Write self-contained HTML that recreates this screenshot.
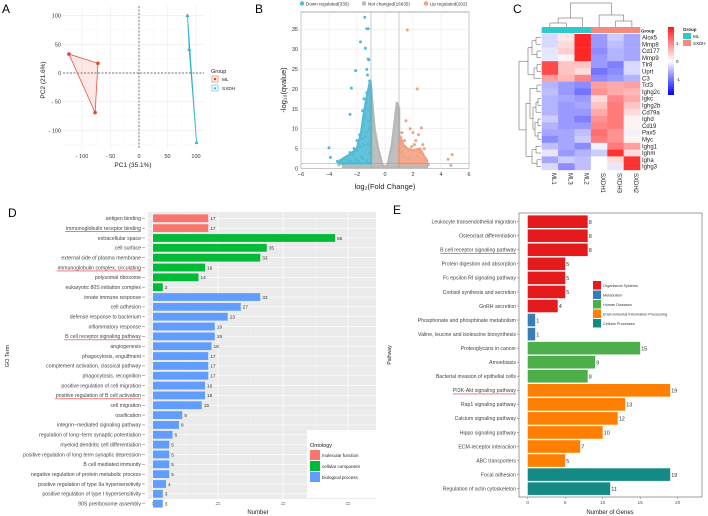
<!DOCTYPE html>
<html><head><meta charset="utf-8"><style>
body{margin:0;background:#fff}
svg{display:block;font-family:"Liberation Sans",sans-serif}
</style></head><body>
<svg id="fig" width="708" height="516" viewBox="0 0 708 516" xmlns="http://www.w3.org/2000/svg">
<g id="gA"></g>
<g id="gB"></g>
<g id="gC"></g>
<g id="gD"></g>
<g id="gE"></g>
</svg>
<script>
// ---------- data ----------
const pcaML = [[-123,33],[-72,17],[-77,-69]];
const pcaSX = [[85,100],[88,41],[101,-121]];
const pcaXTicks = [-100,-50,0,50,100];
const pcaYTicks = [100,50,0,-50,-100];

const volDown = [[-1.45,38],[-1.3,35.1],[-1.2,35.1],[-1.75,31.8],[-1.4,30.2],[-1.2,27.5],[-1.15,27.3],[-2.1,24.6],[-1.3,24.9],[-1.25,23.5],[-1.1,22],[-2.4,20.2],[-1.15,20],[-1.3,19],[-1.5,17.5],[-1.3,16.5],[-2.5,13.6],[-1.6,14.5],[-1.4,13],[-1.2,12],[-1.5,11],[-1.8,8.5],[-1.3,9],[-1.1,10],[-2.0,7],[-4,5.2],[-3.9,2.8],[-3.4,1.8],[-3.2,2],[-2.9,2.5],[-2.7,3],[-2.5,4],[-2.3,3.5],[-2.2,5],[-2,4.5],[-1.8,5.5],[-1.7,3],[-1.5,6],[-1.6,7.5],[-1.4,8],[-1.2,6],[-1.1,4],[-2.6,2],[-2.4,1.6],[-2.1,2.2],[-1.9,1.8],[-1.6,2.5],[-1.3,2],[-1.2,15],[-1.05,18]];
const volUp = [[1.6,34.8],[2.3,20],[1.5,12],[1.8,10],[2.0,9],[2.4,8.5],[2.6,10.2],[2.2,7],[2.7,6],[2.8,5],[2.5,4],[4.5,2.3],[4.8,3.5],[2.1,6],[1.4,7],[1.9,5.5],[2.9,2.5],[1.2,9],[1.1,4],[1.3,3],[1.7,2.5],[2.3,3]];
const volNot = [[4.7,0.8],[-3.3,0.9],[3.1,1],[-2.8,0.6]];
const volGreyEnv = [[-3,0.3],[-3,1.3],[-1,1.3],[-1,20],[-0.9,16],[-0.75,10],[-0.5,5],[-0.2,1],[0,0.3],[0.2,1],[0.5,6],[0.7,12],[0.85,16.5],[1,15],[1,1.3],[3,1.3],[3,0.3]];
const volDownEnv = [[-3.3,1.3],[-3,2.5],[-2.5,3.5],[-2,5],[-1.7,9],[-1.5,14],[-1.3,18],[-1.05,22],[-1,20],[-1,1.3]];
const volUpEnv = [[1,1.3],[1,5],[1.1,8],[1.3,6],[1.6,5],[2,4.5],[2.5,5],[2.8,3],[3,2],[3,1.3]];
const volXTicks = [-6,-4,-2,0,2,4,6];
const volYTicks = [0,5,10,15,20,25,30,35];

const hmGenes = ["Alox5","Mmp8","Cd177","Mmp9","Tlr8","Uprt","C3","Tcf3","Ighg2c","Igkc","Ighg2b","Cd79a","Ighd","Cd19","Pax5","Myc","Ighg1","Ighm","Igha","Ighg3"];
const hmSamples = ["ML1","ML3","ML2","SXDH1","SXDH3","SXDH2"];
const hmValues = [
[-0.3,0.2,1.8,-0.8,-0.4,-0.7],[-0.3,0.3,1.8,-0.8,-0.5,-0.7],[-0.2,0.4,1.8,-0.9,-0.6,-0.7],[-0.2,0.1,1.8,-0.8,-0.6,-0.7],
[1.5,0.5,0.5,-0.8,-1,-0.3],[1.5,0.5,0.3,-1.1,-0.9,-0.3],[0.8,0.6,1.0,-0.9,-0.8,-0.6],
[-0.6,-0.8,-0.9,0.8,0.7,0.8],[-0.5,-0.8,-1.1,0.9,0.7,0.6],[-0.6,-0.7,-0.8,0.3,1.0,0.7],[-0.6,-0.8,-0.7,0.5,1.1,0.5],
[-0.6,-0.8,-0.8,0.7,1.1,0.3],[-0.4,-0.8,-1.0,0.9,1.1,0.1],[-0.6,-0.8,-0.8,1.0,1.1,0.1],[-0.7,-0.7,-0.5,1.2,0.9,-0.1],
[-0.9,-0.7,-0.4,1.1,0.9,0.1],[-0.5,-0.7,-0.9,-0.1,1.1,0.8],[-0.2,-0.8,-0.6,-0.4,1.7,0.3],[-0.7,-0.4,-0.5,0,0.3,1.7],[-0.3,-0.9,-0.5,0,-0.2,1.7]];

const goTerms = ["antigen binding","immunoglobulin receptor binding","extracellular space","cell surface","external side of plasma membrane","immunoglobulin complex, circulating","polysomal ribosome","eukaryotic 80S initiation complex","innate immune response","cell adhesion","defense response to bacterium","inflammatory response","B cell receptor signaling pathway","angiogenesis","phagocytosis, engulfment","complement activation, classical pathway","phagocytosis, recognition","positive regulation of cell migration","positive regulation of B cell activation","cell migration","ossification","integrin\u2212mediated signaling pathway","regulation of long\u2212term synaptic potentiation","myeloid dendritic cell differentiation","positive regulation of long term synaptic depression","B cell mediated immunity","negative regulation of protein metabolic process","positive regulation of type IIa hypersensitivity","positive regulation of type I hypersensitivity","90S preribosome assembly"];
const goCounts = [17,17,56,35,33,16,14,3,33,27,23,19,19,18,17,17,17,16,16,15,9,8,6,5,5,5,5,4,3,3];
const goOnto = [0,0,1,1,1,1,1,1,2,2,2,2,2,2,2,2,2,2,2,2,2,2,2,2,2,2,2,2,2,2];
const goUnder = [1,5,12,18];
const goXTicks = [0,20,40,60];

const kgTerms = ["Leukocyte transendothelial migration","Osteoclast differentiation","B cell receptor signaling pathway","Protein digestion and absorption","Fc epsilon RI signaling pathway","Cortisol synthesis and secretion","GnRH secretion","Phosphonate and phosphinate metabolism","Valine, leucine and isoleucine biosynthesis","Proteoglycans in cancer","Amoebiasis","Bacterial invasion of epithelial cells","PI3K-Akt signaling pathway","Rap1 signaling pathway","Calcium signaling pathway","Hippo signaling pathway","ECM-receptor interaction","ABC transporters","Focal adhesion","Regulation of actin cytoskeleton"];
const kgCounts = [8,8,8,5,5,5,4,1,1,15,9,8,19,13,12,10,7,5,19,11];
const kgClass = [0,0,0,0,0,0,0,1,1,2,2,2,3,3,3,3,3,3,4,4];
const kgUnder = [2,12];
const kgXTicks = [0,5,10,15,20];

// ---------- helpers ----------
const NS="http://www.w3.org/2000/svg";
function el(parent,tag,attrs,text){const e=document.createElementNS(NS,tag);for(const k in attrs)e.setAttribute(k,attrs[k]);if(text!==undefined)e.textContent=text;parent.appendChild(e);return e;}
const fig=document.getElementById('fig');
function lbl(x,y,t){const e=el(fig,'text',{x:x,y:y,'font-size':12});e.textContent=t;}
lbl(2,13,'A');lbl(255,13,'B');lbl(513,13,'C');lbl(8,217,'D');lbl(393,214,'E');

// ---------- A ----------
(function(){
const g=document.getElementById('gA');
const X=v=>139+v*0.57, Y=v=>73-v*0.574;
el(g,'rect',{x:63,y:6,width:141,height:143,fill:'#fff'});
for(const t of pcaXTicks){el(g,'line',{x1:X(t),x2:X(t),y1:6,y2:149,stroke:'#ececec','stroke-width':0.6});el(g,'line',{x1:X(t+25),x2:X(t+25),y1:6,y2:149,stroke:'#f5f5f5','stroke-width':0.4});
 const tx=el(g,'text',{x:X(t),y:158,'font-size':5.5,'text-anchor':'middle',fill:'#333'});tx.textContent=(t<0?'- '+(-t):t);}
for(const t of pcaYTicks){el(g,'line',{x1:63,x2:204,y1:Y(t),y2:Y(t),stroke:'#ececec','stroke-width':0.6});el(g,'line',{x1:63,x2:204,y1:Y(t-25),y2:Y(t-25),stroke:'#f5f5f5','stroke-width':0.4});
 const ty=el(g,'text',{x:61,y:Y(t)+2,'font-size':5.5,'text-anchor':'end',fill:'#333'});ty.textContent=(t<0?'- '+(-t):t);}
el(g,'line',{x1:X(0),x2:X(0),y1:6,y2:149,stroke:'#444','stroke-width':0.7,'stroke-dasharray':'2,1.5'});
el(g,'line',{x1:63,x2:204,y1:Y(0),y2:Y(0),stroke:'#444','stroke-width':0.7,'stroke-dasharray':'2,1.5'});
const pm=pcaML.map(p=>X(p[0])+','+Y(p[1])).join(' ');
const h1=el(g,'polygon',{points:pm,fill:'rgba(240,100,80,0.15)',stroke:'#e8553f','stroke-width':0.8});
const ps=pcaSX.map(p=>X(p[0])+','+Y(p[1])).join(' ');
const h2=el(g,'polygon',{points:ps,fill:'rgba(60,180,210,0.15)',stroke:'#2fb0cc','stroke-width':0.8});
for(const p of pcaML){const c=el(g,'circle',{cx:X(p[0]),cy:Y(p[1]),r:1.8,fill:'#e8452f'});}
for(const p of pcaSX){const x=X(p[0]),y=Y(p[1]);const c=el(g,'polygon',{points:`${x},${y-2.2} ${x-2},${y+1.4} ${x+2},${y+1.4}`,fill:'#2fb0cc'});}
el(g,'text',{x:133,y:167,'font-size':6.5,'text-anchor':'middle',fill:'#222'},'PC1 (35.1%)');
el(g,'text',{x:0,y:0,'font-size':6.5,'text-anchor':'middle',fill:'#222',transform:'translate(45,80) rotate(-90)'},'PC2 (21.6%)');
el(g,'text',{x:211,y:73,'font-size':5.5,fill:'#222'},'Group');
el(g,'rect',{x:212,y:76,width:6,height:6,fill:'#fff',stroke:'#e8452f','stroke-width':0.5});el(g,'circle',{cx:215,cy:79,r:1.3,fill:'#e8452f'});
el(g,'text',{x:222,y:81,'font-size':4.8,fill:'#222'},'ML');
el(g,'rect',{x:212,y:85,width:6,height:6,fill:'#fff',stroke:'#2fb0cc','stroke-width':0.5});el(g,'polygon',{points:'215,86.5 213.5,89.3 216.5,89.3',fill:'#2fb0cc'});
el(g,'text',{x:222,y:90,'font-size':4.8,fill:'#222'},'SXDH');
})();

// ---------- B ----------
(function(){
const g=document.getElementById('gB');
const X=v=>385+v*14, Y=v=>168.5-v*3.98;
el(g,'rect',{x:301,y:12,width:168,height:156.5,fill:'#fff',stroke:'#888','stroke-width':0.7});
for(const t of volXTicks){el(g,'line',{x1:X(t),x2:X(t),y1:12,y2:168.5,stroke:'#e6e6e6','stroke-width':0.5});
 const tx=el(g,'text',{x:X(t),y:176,'font-size':5.5,'text-anchor':'middle',fill:'#333'});tx.textContent=(t<0?'\u2212'+(-t):t);}
for(const t of volYTicks){el(g,'line',{x1:301,x2:469,y1:Y(t),y2:Y(t),stroke:'#e6e6e6','stroke-width':0.5});
 const ty=el(g,'text',{x:298,y:Y(t)+2,'font-size':5.5,'text-anchor':'end',fill:'#333'});ty.textContent=t;}
const poly=(a,c,n)=>{const p=el(g,'polygon',{points:a.map(q=>X(q[0])+','+Y(q[1])).join(' '),fill:c,stroke:c,'stroke-width':2.5,'stroke-linejoin':'round','fill-opacity':0.9});};
poly(volGreyEnv,'#b8b8b8','not-changed-cloud');poly(volDownEnv,'#52bcd6','down-cloud');poly(volUpEnv,'#f2a283','up-cloud');
const pts=(a,c,n)=>{for(const q of a){const p=el(g,'circle',{cx:X(q[0]),cy:Y(q[1]),r:1.5,fill:c});}};
pts(volNot,'#b8b8b8','not-changed-point');pts(volDown,'#52bcd6','down-point');pts(volUp,'#f2a283','up-point');
el(g,'line',{x1:X(-1),x2:X(-1),y1:12,y2:168.5,stroke:'#999','stroke-width':0.5});
el(g,'line',{x1:X(1),x2:X(1),y1:12,y2:168.5,stroke:'#999','stroke-width':0.5});
el(g,'line',{x1:301,x2:469,y1:Y(1.3),y2:Y(1.3),stroke:'#999','stroke-width':0.5});
el(g,'text',{x:385,y:189,'font-size':7.5,'text-anchor':'middle',fill:'#222'},'log\u2082(Fold Change)');
el(g,'text',{x:0,y:0,'font-size':7.5,'text-anchor':'middle',fill:'#222',transform:'translate(286,90) rotate(-90)'},'-log\u2081\u2080(qvalue)');
const leg=[['#52bcd6','Down regulated(335)',302],['#b8b8b8','Not changed(16635)',364],['#f2a283','Up regulated(202)',426]];
for(const l of leg){el(g,'circle',{cx:l[2],cy:3.5,r:2.2,fill:l[0]});const t=el(g,'text',{x:l[2]+4,y:5.3,'font-size':4.6,fill:'#333'});t.textContent=l[1];}
})();

// ---------- C ----------
(function(){
const g=document.getElementById('gC');
const x0=541.7,cw=16.4,y0=34,rh=6.8;
function col(v){const t=Math.min(Math.abs(v)/1.9,1);if(v>=0){const k=Math.round(255*(1-t*0.9));return `rgb(255,${k},${k})`;}const k=Math.round(255*(1-t*0.95));return `rgb(${k},${k},255)`;}
hmValues.forEach((row,i)=>row.forEach((v,j)=>{const r=el(g,'rect',{x:x0+j*cw,y:y0+i*rh,width:cw+0.2,height:rh+0.2,fill:col(v)});}));
hmSamples.forEach((s,j)=>{el(g,'rect',{x:x0+j*cw,y:27,width:cw+0.2,height:6,fill:j<3?'#2ec9cf':'#f28a80'});
 const t=el(g,'text',{x:0,y:0,'font-size':6,fill:'#222',transform:`translate(${x0+j*cw+cw/2+2},173) rotate(90)`});t.textContent=s;});
hmGenes.forEach((gn,i)=>{const t=el(g,'text',{x:642,y:y0+i*rh+5.5,'font-size':6,fill:'#222'});t.textContent=gn;});
el(g,'text',{x:641,y:32.5,'font-size':4.5,'font-weight':'bold',fill:'#222'},'Group');
const cx=j=>x0+j*cw+cw/2;
const dp='stroke:#555;stroke-width:0.5;fill:none';
const top=[`M${cx(0)},27V23H${cx(1)}V27`,`M${(cx(0)+cx(1))/2},23V18H${cx(2)}V27`,`M${cx(4)},27V21H${cx(5)}V27`,`M${(cx(4)+cx(5))/2},21V15H${cx(3)}V27`,`M${((cx(0)+cx(1))/2+cx(2))/2},18V3H${((cx(4)+cx(5))/2+cx(3))/2}V15`];
top.forEach(d=>el(g,'path',{d:d,style:dp}));
const ry=i=>y0+i*rh+rh/2;
const L=[`M541,${ry(0)}H536V${ry(1)}H541`,`M541,${ry(2)}H537V${ry(3)}H541`,`M536,${(ry(0)+ry(1))/2}H532V${(ry(2)+ry(3))/2}H537`,`M541,${ry(4)}H537V${ry(5)}H541`,`M537,${(ry(4)+ry(5))/2}H534V${ry(6)}H541`,`M532,${ry(1.5)}H528V${ry(5.5)}H534`,
`M541,${ry(7)}H537V${ry(8)}H541`,`M541,${ry(9)}H538V${ry(10)}H541`,`M538,${ry(9.5)}H536V${ry(11)}H541`,`M541,${ry(12)}H538V${ry(13)}H541`,`M541,${ry(14)}H538V${ry(15)}H541`,`M538,${ry(12.5)}H535V${ry(14.5)}H538`,`M536,${ry(10.25)}H533V${ry(13.5)}H535`,`M537,${ry(7.5)}H530V${ry(11.9)}H533`,
`M541,${ry(16)}H536V${ry(17)}H541`,`M541,${ry(18)}H537V${ry(19)}H541`,`M536,${ry(16.5)}H532V${ry(18.5)}H537`,`M530,${ry(9.7)}H526V${ry(17.5)}H532`,`M528,${ry(3.5)}H519V${ry(13.6)}H526`];
L.forEach(d=>el(g,'path',{d:d,style:dp}));
const gr=el(g,'defs',{});const lg=el(gr,'linearGradient',{id:'cg',x1:0,y1:0,x2:0,y2:1});
el(lg,'stop',{offset:0,'stop-color':'#ff1a1a'});el(lg,'stop',{offset:0.5,'stop-color':'#fff'});el(lg,'stop',{offset:1,'stop-color':'#0000ff'});
const cb=el(g,'rect',{x:668,y:27,width:6,height:68,fill:'url(#cg)'});
el(g,'text',{x:676,y:45,'font-size':4.5,fill:'#222'},'1');el(g,'text',{x:676,y:63,'font-size':4.5,fill:'#222'},'0');el(g,'text',{x:676,y:81,'font-size':4.5,fill:'#222'},'-1');
el(g,'text',{x:683,y:31,'font-size':4.5,'font-weight':'bold',fill:'#222'},'Group');
el(g,'rect',{x:683,y:33,width:8,height:6,fill:'#2ec9cf'});el(g,'text',{x:693,y:38,'font-size':4.5,fill:'#222'},'ML');
el(g,'rect',{x:683,y:40,width:8,height:6,fill:'#f28a80'});el(g,'text',{x:693,y:45,'font-size':4.5,fill:'#222'},'SXDH');
})();

// ---------- D ----------
(function(){
const g=document.getElementById('gD');
const X=v=>153+v*3.25, y0=218.3, sp=9.84, Y=i=>y0+i*sp;
const colors=['#F8766D','#00BA38','#619CFF'];
el(g,'rect',{x:148,y:212,width:228,height:287,fill:'#ebebeb'});
for(const t of [10,30,50])el(g,'line',{x1:X(t),x2:X(t),y1:212,y2:499,stroke:'#f5f5f5','stroke-width':0.4});
for(const t of goXTicks){el(g,'line',{x1:X(t),x2:X(t),y1:212,y2:499,stroke:'#fff','stroke-width':0.7});
 const tx=el(g,'text',{x:X(t),y:505,'font-size':4.5,'text-anchor':'middle',fill:'#555'});tx.textContent=t;}
goTerms.forEach((t,i)=>{el(g,'line',{x1:148,x2:376,y1:Y(i),y2:Y(i),stroke:'#fff','stroke-width':0.6});});
goTerms.forEach((t,i)=>{
 const b=el(g,'rect',{x:X(0),y:Y(i)-3.9,width:X(goCounts[i])-X(0),height:7.8,fill:colors[goOnto[i]]});
 const v=el(g,'text',{x:X(goCounts[i])+2,y:Y(i)+1.8,'font-size':4.8,fill:'#333'});v.textContent=goCounts[i];
 const l=el(g,'text',{x:141,y:Y(i)+1.8,'font-size':5.2,'text-anchor':'end',fill:'#444'});l.textContent=t;
 el(g,'line',{x1:142,x2:145,y1:Y(i),y2:Y(i),stroke:'#444','stroke-width':0.4});
 if(goUnder.includes(i)){const w=l.getComputedTextLength?l.getComputedTextLength():100;el(g,'line',{x1:141-w-1,x2:141,y1:Y(i)+3.4,y2:Y(i)+3.4,stroke:'#e03030','stroke-width':0.6});}
});
el(g,'rect',{x:307,y:430,width:74,height:68,fill:'#fff'});
el(g,'text',{x:310,y:447,'font-size':5.5,fill:'#222'},'Ontology');
const on=['molecular function','cellular component','biological process'];
on.forEach((o,k)=>{el(g,'rect',{x:310,y:450+k*11,width:10,height:10,fill:colors[k]});const t=el(g,'text',{x:322,y:457+k*11,'font-size':4.5,fill:'#222'});t.textContent=o;});
el(g,'text',{x:258,y:514,'font-size':6,'text-anchor':'middle',fill:'#222'},'Number');
el(g,'text',{x:0,y:0,'font-size':5.5,'text-anchor':'middle',fill:'#222',transform:'translate(9,356) rotate(-90)'},'GO Term');
})();

// ---------- E ----------
(function(){
const g=document.getElementById('gE');
const X=v=>527.7+v*7.5, y0=221.7, sp=14.05, Y=i=>y0+i*sp;
const colors=['#E41A1C','#377EB8','#4DAF4A','#FF7F00','#148A87'];
el(g,'rect',{x:519,y:213,width:183,height:284,fill:'#fff',stroke:'#777','stroke-width':0.7});
for(const t of kgXTicks){const tx=el(g,'text',{x:X(t),y:504,'font-size':4.8,'text-anchor':'middle',fill:'#555'});tx.textContent=t;el(g,'line',{x1:X(t),x2:X(t),y1:497,y2:499,stroke:'#555','stroke-width':0.4});}
kgTerms.forEach((t,i)=>{
 const b=el(g,'rect',{x:X(0),y:Y(i)-6.3,width:X(kgCounts[i])-X(0),height:12.6,fill:colors[kgClass[i]]});
 const v=el(g,'text',{x:X(kgCounts[i])+1,y:Y(i)+2.2,'font-size':5.5,fill:'#333'});v.textContent=kgCounts[i];
 const l=el(g,'text',{x:516,y:Y(i)+1.8,'font-size':5.2,'text-anchor':'end',fill:'#444'});l.textContent=t;
 el(g,'line',{x1:517,x2:519,y1:Y(i),y2:Y(i),stroke:'#444','stroke-width':0.4});
 if(kgUnder.includes(i)){const w=l.getComputedTextLength?l.getComputedTextLength():100;el(g,'line',{x1:516-w,x2:516,y1:Y(i)+3.6,y2:Y(i)+3.6,stroke:'#e03030','stroke-width':0.6});}
});
const cls=['Organismal Systems','Metabolism','Human Diseases','Environmental Information Processing','Cellular Processes'];
cls.forEach((c,k)=>{el(g,'rect',{x:593,y:281+k*9.5,width:8,height:8.5,fill:colors[k]});const t=el(g,'text',{x:603,y:287+k*9.5,'font-size':3.8,fill:'#333'});t.textContent=c;});
el(g,'text',{x:610,y:514,'font-size':6,'text-anchor':'middle',fill:'#222'},'Number of Genes');
el(g,'text',{x:0,y:0,'font-size':5,'text-anchor':'middle',fill:'#222',transform:'translate(391,355) rotate(-90)'},'Pathway');
})();
</script>
</body></html>
